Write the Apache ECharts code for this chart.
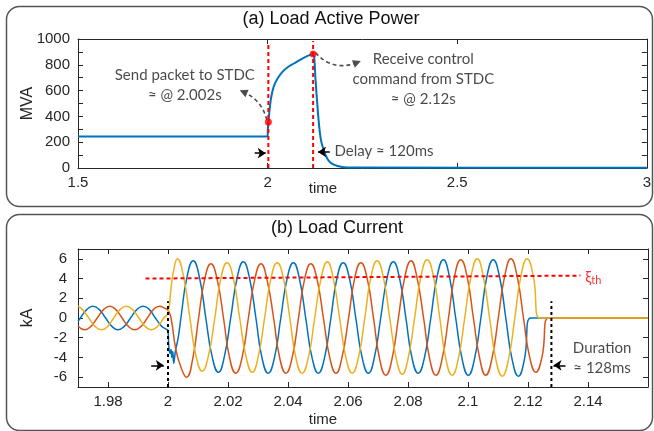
<!DOCTYPE html>
<html><head><meta charset="utf-8">
<script src="https://cdn.jsdelivr.net/npm/echarts@6/dist/echarts.min.js"></script>
<style>html,body{margin:0;padding:0;background:#fff}#c{width:654px;height:431px}</style>
</head><body><div id="c"></div>
<script>
// ---------- (a) Load Active Power (time [s], MVA) ----------
const powerSeries = [[1.5,245],[2.0,245],[2.0005,290],[2.002,356],[2.0047,438],[2.009,541],[2.0161,631],[2.0266,696],[2.0397,747],[2.0529,781],[2.0704,812],[2.088,843],[2.1055,869],[2.12,884],[2.1234,838],[2.1261,696],[2.1305,515],[2.1348,360],[2.1392,244],[2.1436,180],[2.1524,103],[2.1612,56],[2.1743,26],[2.1962,8],[2.23,3],[3.0,2]];
const powerEvents = [[2.002,356],[2.12,884]];
const powerMarkTimes = [2.002, 2.12];
const powerXTicks = [1.5, 2, 2.5, 3];
const powerYTicks = [0,100,200,300,400,500,600,700,800,900,1000];
const powerYLabels = [0,200,400,600,800,1000];

// ---------- (b) Load Current (time [s], kA) ----------
const phaseA = [[1.9700,-0.35],[1.9708,0],[1.9729,0.85],[1.9750,1.2],[1.9771,0.85],[1.9792,0],[1.9813,-0.85],[1.9833,-1.2],[1.9854,-0.85],[1.9875,0],
  [1.9896,0.85],[1.9917,1.2],[1.9938,0.85],[1.9958,0],[1.9979,-0.85],[1.9995,-1.15],
  [2.0000,-1.3],[2.0003,-3.0],[2.0007,-3.6],[2.0010,-3.2],[2.0013,-4.0],[2.0016,-3.4],[2.0019,-4.6],[2.0022,-4.0],[2.0025,-3.3],[2.0034,-2.0],
  [2.0043,0],[2.0063,4.1],[2.0084,5.8],[2.0105,4.1],[2.0126,0],[2.0147,-3.9],[2.0168,-5.5],[2.0188,-3.9],
  [2.0209,0],[2.0230,4.0],[2.0251,5.7],[2.0272,4.0],[2.0293,0],[2.0313,-4.0],[2.0334,-5.6],[2.0355,-4.0],
  [2.0376,0],[2.0397,4.0],[2.0418,5.6],[2.0438,4.0],[2.0459,0],[2.0480,-4.0],[2.0501,-5.6],[2.0522,-4.0],
  [2.0543,0],[2.0563,4.0],[2.0584,5.6],[2.0605,4.0],[2.0626,0],[2.0647,-4.0],[2.0668,-5.6],[2.0688,-4.0],
  [2.0709,0],[2.0730,4.0],[2.0751,5.7],[2.0772,4.0],[2.0793,0],[2.0813,-4.0],[2.0834,-5.6],[2.0855,-4.0],
  [2.0876,0],[2.0897,4.2],[2.0918,5.9],[2.0938,4.2],[2.0959,0],[2.0980,-4.1],[2.1001,-5.8],[2.1022,-4.1],
  [2.1043,0],[2.1063,4.2],[2.1084,5.9],[2.1105,4.2],[2.1126,0],[2.1147,-4.2],[2.1168,-5.9],[2.1188,-4.2],
  [2.1209,0],[2.16,0]];
const phaseB = [[1.9700,-0.8],[1.9722,-1.2],[1.9743,-0.85],[1.9764,0],[1.9785,0.85],[1.9806,1.2],[1.9826,0.85],[1.9847,0],
  [1.9868,-0.85],[1.9889,-1.2],[1.9910,-0.85],[1.9931,0],[1.9951,0.85],[1.9972,1.2],[1.9988,1.0],
  [2.0000,0.8],[2.0010,0],[2.0025,-3.0],[2.0041,-4.8],[2.0062,-6.0],[2.0082,-4.2],[2.0102,0],[2.0122,3.9],
  [2.0143,5.5],[2.0164,3.9],[2.0185,0],[2.0205,-4.0],[2.0226,-5.6],[2.0247,-4.0],[2.0268,0],[2.0289,3.9],
  [2.0310,5.5],[2.0330,3.9],[2.0352,0],[2.0372,-4.0],[2.0393,-5.6],[2.0414,-4.0],[2.0435,0],[2.0455,3.9],
  [2.0476,5.5],[2.0497,3.9],[2.0518,0],[2.0539,-4.0],[2.0560,-5.6],[2.0580,-4.0],[2.0602,0],[2.0622,4.0],
  [2.0643,5.6],[2.0664,4.0],[2.0685,0],[2.0705,-4.1],[2.0726,-5.8],[2.0747,-4.1],[2.0768,0],[2.0789,4.1],
  [2.0810,5.8],[2.0830,4.1],[2.0852,0],[2.0872,-4.1],[2.0893,-5.8],[2.0914,-4.1],[2.0935,0],[2.0955,4.2],
  [2.0976,5.9],[2.0997,4.2],[2.1018,0],[2.1039,-4.1],[2.1059,-5.8],[2.1080,-4.1],[2.1101,0],[2.1122,4.2],
  [2.1143,6.0],[2.1164,4.2],[2.1185,0],[2.1205,-3.9],[2.1226,-5.5],[2.1247,-3.9],[2.1268,0],[2.16,0]];
const phaseC = [[1.9700,1.2],[1.9715,0.85],[1.9736,0],[1.9757,-0.85],[1.9778,-1.2],[1.9799,-0.85],[1.9819,0],[1.9840,0.85],
  [1.9861,1.2],[1.9882,0.85],[1.9903,0],[1.9924,-0.85],[1.9944,-1.2],[1.9965,-0.85],[1.9986,0],
  [2.0000,0.5],[2.0010,3.0],[2.0020,5.0],[2.0031,6.0],[2.0052,4.2],[2.0073,0],[2.0093,-3.8],[2.0114,-5.4],[2.0135,-3.8],
  [2.0156,0],[2.0176,4.0],[2.0197,5.6],[2.0218,4.0],[2.0239,0],[2.0260,-3.9],[2.0281,-5.5],[2.0301,-3.9],
  [2.0322,0],[2.0343,4.0],[2.0364,5.6],[2.0385,4.0],[2.0406,0],[2.0426,-4.0],[2.0447,-5.6],[2.0468,-4.0],
  [2.0489,0],[2.0510,4.0],[2.0531,5.7],[2.0551,4.0],[2.0572,0],[2.0593,-4.0],[2.0614,-5.6],[2.0635,-4.0],
  [2.0656,0],[2.0676,4.1],[2.0697,5.8],[2.0718,4.1],[2.0739,0],[2.0760,-4.0],[2.0781,-5.7],[2.0801,-4.0],
  [2.0822,0],[2.0843,4.2],[2.0864,5.9],[2.0885,4.2],[2.0906,0],[2.0926,-4.1],[2.0947,-5.8],[2.0968,-4.1],
  [2.0989,0],[2.1010,4.2],[2.1031,6.0],[2.1051,4.2],[2.1072,0],[2.1093,-4.2],[2.1114,-5.9],[2.1135,-4.2],
  [2.1156,0],[2.1176,4.2],[2.1197,6.0],[2.1218,4.2],[2.1239,0],[2.16,0]];
const thresholdLine = [[1.9925,4.0],[2.1375,4.3]];
const currentMarkTimes = [2.0, 2.1278];
const currentXTicks = [1.98,2.0,2.02,2.04,2.06,2.08,2.10,2.12,2.14];
const currentYTicks = [-6,-4,-2,0,2,4,6];

const INK = '#262626';
const BLUE = '#0072BD', RED = '#D95319', YEL = '#EDB120';
const tickFont = 'Liberation Sans, Arial, sans-serif';
const noteFont = 'Lato, Noto Sans, sans-serif';
const fmtX = v => String(parseFloat((+v).toFixed(3)));

function xAx(grid, pos, min, max, ticks, labels) {
  return {
    type: 'value', gridIndex: grid, position: pos, min: min, max: max,
    axisLine: { show: true, onZero: false, lineStyle: { color: INK, width: 1 } },
    axisTick: { show: true, inside: true, length: 5, customValues: ticks, lineStyle: { color: INK } },
    axisLabel: labels ? { show: true, customValues: ticks, formatter: fmtX, color: INK, fontSize: 15, fontFamily: tickFont, margin: 7 } : { show: false },
    splitLine: { show: false }
  };
}
function yAx(grid, pos, min, max, ticks, labelVals, name, margin) {
  return {
    type: 'value', gridIndex: grid, position: pos, min: min, max: max,
    name: name || '', nameLocation: 'middle', nameGap: 42, nameRotate: 90, nameMoveOverlap: false,
    nameTextStyle: { color: INK, fontSize: 16, fontFamily: tickFont },
    axisLine: { show: true, onZero: false, lineStyle: { color: INK, width: 1 } },
    axisTick: { show: true, inside: true, length: 5, customValues: ticks, lineStyle: { color: INK } },
    axisLabel: labelVals ? { show: true, customValues: labelVals, formatter: v => String(v), color: INK, fontSize: 15, fontFamily: tickFont, margin: margin } : { show: false },
    splitLine: { show: false }
  };
}
function vline(t, y0, y1, xi, yi, color, dash) {
  return { type: 'line', xAxisIndex: xi, yAxisIndex: yi, data: [[t, y0], [t, y1]], showSymbol: false, silent: true,
    lineStyle: { color: color, width: 2, type: dash }, z: 4 };
}
function note(xi, yi, pt, text, align, extra) {
  return { type: 'scatter', xAxisIndex: xi, yAxisIndex: yi, symbolSize: 0, silent: true, z: 10,
    data: [pt], label: Object.assign({ show: true, position: 'inside', formatter: text, align: align || 'center', verticalAlign: 'middle',
      color: '#1a1a1a', fontSize: 15, fontFamily: noteFont, lineHeight: 20 }, extra || {}) };
}

const series = [
  // panel (a)
  vline(powerMarkTimes[0], 0, 975, 0, 0, '#FF0000', [4, 3]),
  vline(powerMarkTimes[1], 0, 985, 0, 0, '#FF0000', [4, 3]),
  { type: 'line', xAxisIndex: 0, yAxisIndex: 0, data: powerSeries, showSymbol: false, smooth: 0.3, z: 3,
    lineStyle: { color: BLUE, width: 2 } },
  { type: 'scatter', xAxisIndex: 0, yAxisIndex: 0, data: powerEvents, symbolSize: 7, itemStyle: { color: '#FF0000' }, z: 6 },
  { type: 'lines', coordinateSystem: 'cartesian2d', xAxisIndex: 0, yAxisIndex: 0, symbol: ['none', 'triangle'], symbolSize: 8, z: 5, silent: true,
    lineStyle: { color: '#4d4d4d', width: 1.6, type: [4, 3], curveness: -0.25, opacity: 1 },
    data: [{ coords: [[1.998, 370], [1.936, 590]] }] },
  { type: 'lines', coordinateSystem: 'cartesian2d', xAxisIndex: 0, yAxisIndex: 0, symbol: ['none', 'triangle'], symbolSize: 8, z: 5, silent: true,
    lineStyle: { color: '#4d4d4d', width: 1.6, type: [4, 3], curveness: -0.35, opacity: 1 },
    data: [{ coords: [[2.126, 895], [2.236, 818]] }] },
  { type: 'lines', coordinateSystem: 'cartesian2d', xAxisIndex: 0, yAxisIndex: 0, symbol: ['none', 'arrow'], symbolSize: 8, z: 5, silent: true,
    lineStyle: { color: '#000', width: 1.5, opacity: 1 },
    data: [{ coords: [[1.966, 115], [1.995, 115]] }, { coords: [[2.164, 125], [2.133, 125]] }] },
  note(0, 0, [1.7816, 645], 'Send packet to STDC\n≈ @ 2.002s'),
  note(0, 0, [2.4105, 691], 'Receive control\ncommand from STDC\n≈ @ 2.12s'),
  note(0, 0, [2.1763, 128], 'Delay ≈ 120ms', 'left'),
  // panel (b)
  { type: 'line', xAxisIndex: 2, yAxisIndex: 2, data: phaseA, showSymbol: false, smooth: 0.5, z: 3, lineStyle: { color: BLUE, width: 1.5 } },
  { type: 'line', xAxisIndex: 2, yAxisIndex: 2, data: phaseB, showSymbol: false, smooth: 0.5, z: 3, lineStyle: { color: RED, width: 1.5 } },
  { type: 'line', xAxisIndex: 2, yAxisIndex: 2, data: phaseC, showSymbol: false, smooth: 0.5, z: 3, lineStyle: { color: YEL, width: 1.5 } },
  { type: 'line', xAxisIndex: 2, yAxisIndex: 2, data: thresholdLine, showSymbol: false, z: 4, lineStyle: { color: '#FF0000', width: 2, type: [4, 3] } },
  vline(currentMarkTimes[0], -7, 1.7, 2, 2, '#000', [3, 3]),
  vline(currentMarkTimes[1], -7, 1.7, 2, 2, '#000', [3, 3]),
  { type: 'lines', coordinateSystem: 'cartesian2d', xAxisIndex: 2, yAxisIndex: 2, symbol: ['none', 'arrow'], symbolSize: 8, z: 5, silent: true,
    lineStyle: { color: '#000', width: 1.5, opacity: 1 },
    data: [{ coords: [[1.9944, -4.8], [1.9986, -4.8]] }, { coords: [[2.1325, -4.8], [2.1285, -4.8]] }] },
  note(2, 2, [2.1391, 4.14], '{a|ξ}{b|th}', 'left', { rich: { a: { color: '#FF0000', fontSize: 15, fontFamily: noteFont }, b: { color: '#FF0000', fontSize: 11, fontFamily: noteFont, padding: [6, 0, 0, 0] } } }),
  note(2, 2, [2.1447, -4.07], 'Duration\n≈ 128ms')
];

const chart = echarts.init(document.getElementById('c'), null, { renderer: 'canvas' });
chart.setOption({
  animation: false,
  backgroundColor: '#fff',
  title: [
    { text: '(a) Load Active Power', left: 331, top: 10, textAlign: 'center', padding: 0,
      textStyle: { fontSize: 18, fontWeight: 'normal', color: '#111', fontFamily: tickFont } },
    { text: '(b) Load Current', left: 337, top: 219, textAlign: 'center', padding: 0,
      textStyle: { fontSize: 18, fontWeight: 'normal', color: '#111', fontFamily: tickFont } }
  ],
  grid: [
    { left: 78, right: 6, top: 39, height: 129, containLabel: false },
    { left: 78, right: 6, top: 249, height: 138, containLabel: false }
  ],
  xAxis: [
    xAx(0, 'bottom', 1.5, 3, powerXTicks, true),
    xAx(0, 'top', 1.5, 3, powerXTicks, false),
    xAx(1, 'bottom', 1.97, 2.16, currentXTicks, true),
    xAx(1, 'top', 1.97, 2.16, currentXTicks, false)
  ],
  yAxis: [
    yAx(0, 'left', 0, 1000, powerYTicks, powerYLabels, 'MVA', 8),
    yAx(0, 'right', 0, 1000, powerYTicks, null),
    yAx(1, 'left', -7, 7, currentYTicks, currentYTicks, 'kA', 11),
    yAx(1, 'right', -7, 7, currentYTicks, null)
  ],
  graphic: [
    { type: 'rect', left: 4, top: 4, shape: { width: 646, height: 200, r: 13 }, style: { fill: 'none', stroke: '#555', lineWidth: 1.5 }, z: 0 },
    { type: 'rect', left: 4, top: 212, shape: { width: 646, height: 216, r: 13 }, style: { fill: 'none', stroke: '#555', lineWidth: 1.5 }, z: 0 },
    { type: 'text', x: 323, y: 189, style: { text: 'time', fill: INK, font: '15px ' + tickFont, textAlign: 'center', textVerticalAlign: 'middle' } },
    { type: 'text', x: 323, y: 420, style: { text: 'time', fill: INK, font: '15px ' + tickFont, textAlign: 'center', textVerticalAlign: 'middle' } }
  ],
  series: series
});
</script></body></html>
